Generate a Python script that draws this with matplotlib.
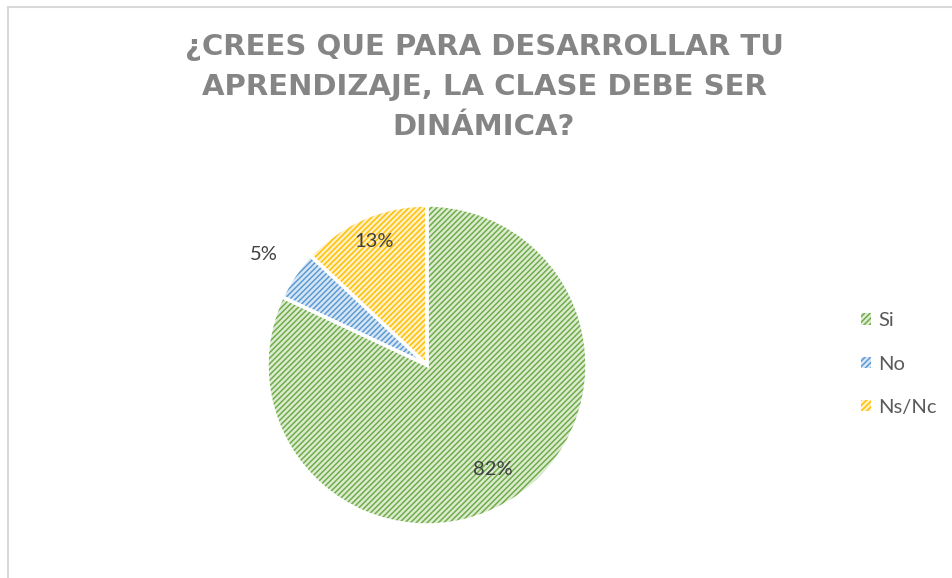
import numpy as np
import matplotlib.pyplot as plt
from matplotlib.patches import Rectangle, Patch

labels = ['Si', 'No', 'Ns/Nc']
values = [82, 5, 13]
line_colors = ['#70AD47', '#5B9BD5', '#FFC000']
fill_colors = ['#DCEBD2', '#D8E6F4', '#FFF0C8']
label_dist = [0.77, 1.23, 0.84]

title = '¿CREES QUE PARA DESARROLLAR TU\nAPRENDIZAJE, LA CLASE DEBE SER\nDINÁMICA?'

plt.rcParams['hatch.linewidth'] = 1.1

fig = plt.figure(figsize=(9.52, 5.78), dpi=100)
W, H = 952, 578

# pie area: centre (427, 365) px, radius 160 px (axes a bit larger so edges aren't clipped)
ax = fig.add_axes([263 / W, (H - 529) / H, 328 / W, 328 / H])
wedges, _ = ax.pie(values, colors=fill_colors, startangle=90, counterclock=False,
                   radius=1, wedgeprops=dict(linewidth=0))
for w, c in zip(wedges, line_colors):
    w.set_edgecolor(c)
    w.set_hatch('//////')

# white separators on top
ax.pie(values, colors=['none'] * 3, startangle=90, counterclock=False, radius=1,
       wedgeprops=dict(edgecolor='white', linewidth=2.5))

total = sum(values)
for w, v, d in zip(wedges, values, label_dist):
    mid = np.deg2rad((w.theta1 + w.theta2) / 2)
    ax.text(d * np.cos(mid), d * np.sin(mid), f'{round(100 * v / total)}%',
            ha='center', va='center', fontsize=14.5, color='#404040', family='Lato')

ax.set_xlim(-1.025, 1.025)
ax.set_ylim(-1.025, 1.025)
ax.axis('off')

fig.text(484 / W, 1 - 87 / H, title, ha='center', va='center', fontsize=21,
         fontweight='bold', color='#858585', family='DejaVu Sans', linespacing=1.55)

handles = [Patch(facecolor=f, edgecolor=c, hatch='//////', linewidth=0)
           for f, c in zip(fill_colors, line_colors)]
fig.legend(handles, labels, loc='center left', bbox_to_anchor=(861 / W, 1 - 364 / H),
           frameon=False, borderpad=0, borderaxespad=0,
           handlelength=0.5, handleheight=0.5, handletextpad=0.35,
           labelspacing=1.3, prop=dict(family='Lato', size=14.5), labelcolor='#595959')

fig.add_artist(Rectangle((8 / W, -0.1), 1.2, (H - 7) / H + 0.1,
                         transform=fig.transFigure, fill=False,
                         edgecolor='#D9D9D9', linewidth=1.5))

fig.savefig('out.png', dpi=100, facecolor='white')
